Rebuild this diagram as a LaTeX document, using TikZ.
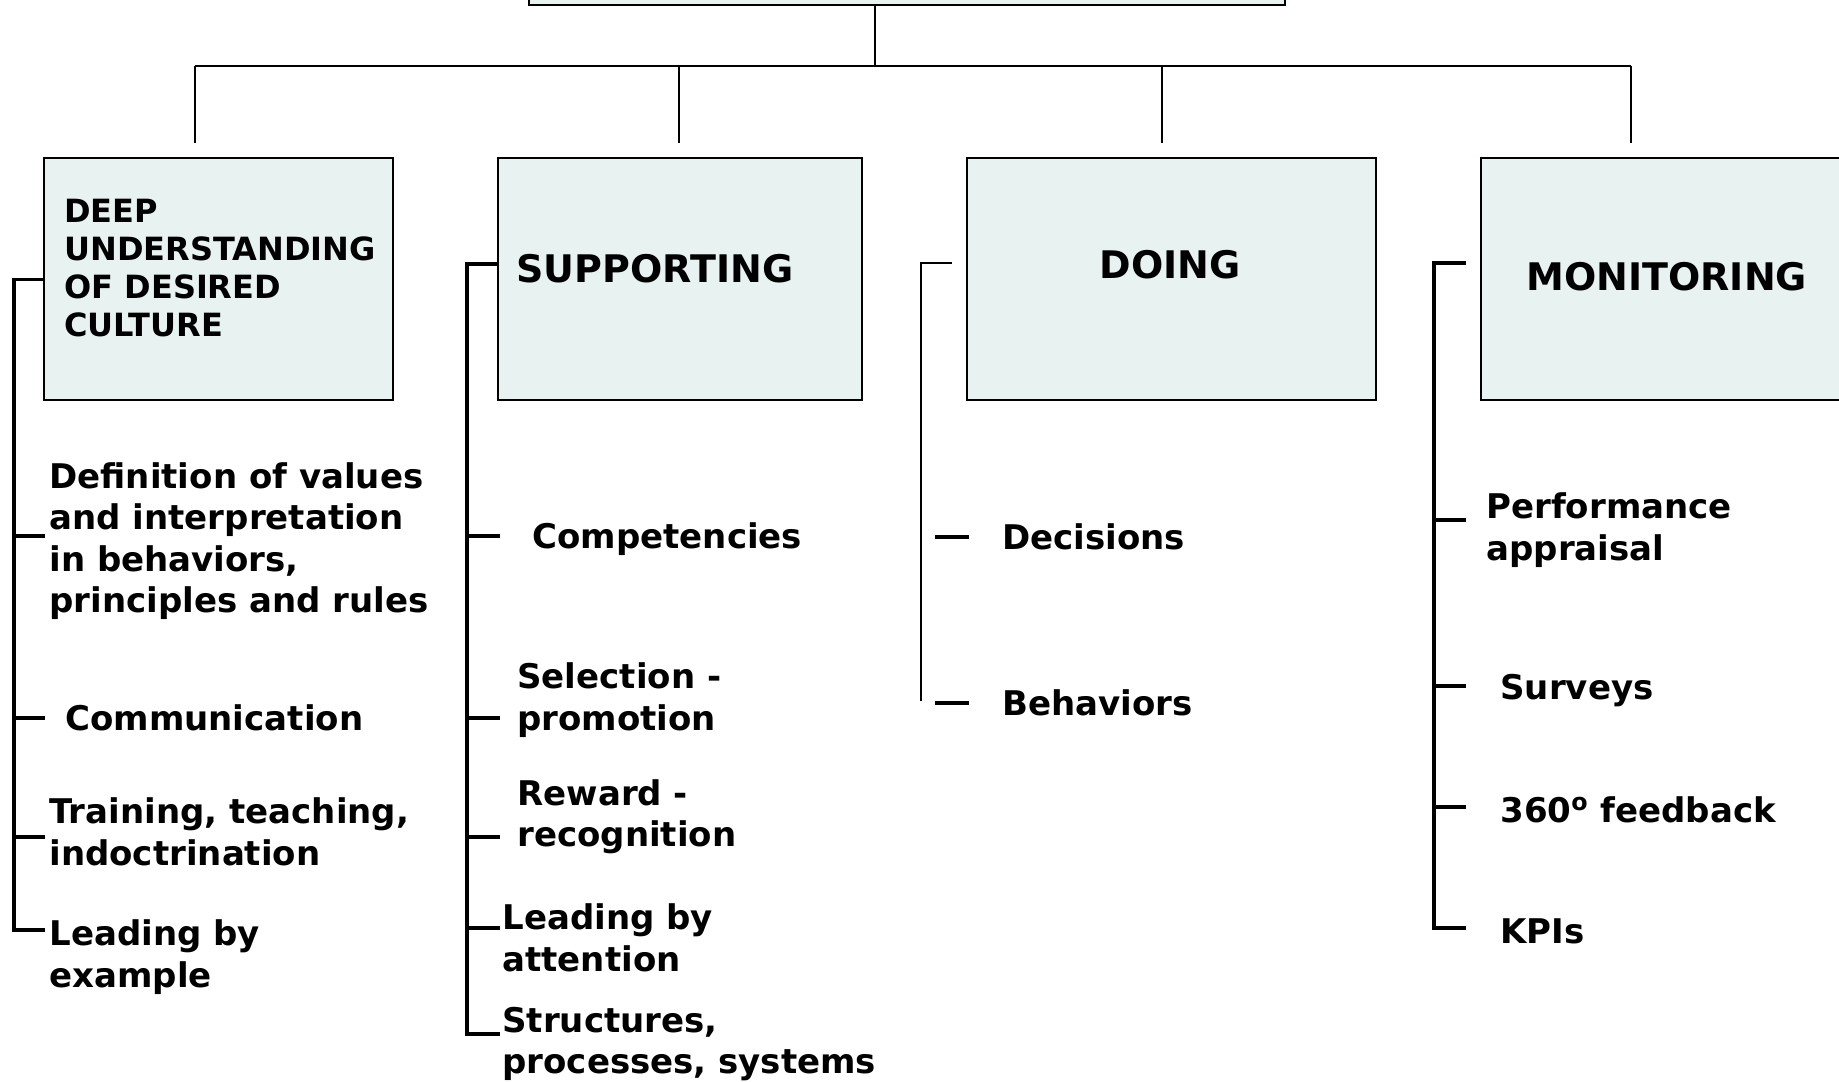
\documentclass[tikz,border=0pt]{standalone}
\usepackage{fontspec}
\setmainfont{DejaVu Sans}
\usetikzlibrary{positioning}
\definecolor{boxfill}{RGB}{232,242,240}
\begin{document}
\begin{tikzpicture}[x=0.5pt,y=-0.5pt]
	\def \busy{66}
	\def \dropend{143}
	\def \boxtop{157}
	\tikzstyle{c-box}=[rectangle,draw=black,line width=1.2pt,fill=boxfill,anchor=north west,minimum height=121pt,inner sep=0pt]
	\tikzstyle{title}=[font=\fontsize{19}{23}\selectfont\bfseries,inner sep=0pt]
	\tikzstyle{item}=[font=\fontsize{17}{20.7}\selectfont\bfseries,align=left,anchor=west,inner sep=0pt]
	\tikzstyle{spine}=[line width=1.6pt]
	\tikzstyle{link}=[line width=1pt]
	\useasboundingbox (0,0) rectangle (1839,1081);

	% boxes
	\node[c-box,minimum width=378pt,minimum height=40pt,anchor=south west] (top) at (528,6) {};
	\node[c-box,minimum width=174.5pt] (deep)  at (43,\boxtop)   {};
	\node[c-box,minimum width=182pt]   (supp)  at (497,\boxtop)  {};
	\node[c-box,minimum width=204.5pt] (doing) at (966,\boxtop)  {};
	\node[c-box,minimum width=190pt]   (mon)   at (1480,\boxtop) {};

	% titles
	\node[title,font=\fontsize{16}{19}\selectfont\bfseries,align=left,anchor=west] (deep-t) at (64,268) {DEEP\\UNDERSTANDING\\OF DESIRED\\CULTURE};
	\node[title,anchor=west] (supp-t)  at (516,269)  {SUPPORTING};
	\node[title]             (doing-t) at (1170,265) {DOING};
	\node[title,anchor=west] (mon-t)   at (1526,277) {MONITORING};

	% bus from the top box
	\coordinate (bus) at (875,\busy);
	\foreach \x [count=\i] in {195,679,1162,1631}
		\coordinate (drop\i) at (\x,\dropend);
	\draw[link] (top.south -| bus) -- (bus);
	\draw[link] (drop1 |- bus) -- (drop4 |- bus);
	\foreach \i in {1,...,4}
		\draw[link] (drop\i |- bus) -- (drop\i);

	% deep understanding
	\node[item] (def)    at (49,541) {Definition of values\\and interpretation\\in behaviors,\\principles and rules};
	\node[item] (comm)   at (65,718) {Communication};
	\node[item] (train)  at (49,832) {Training, teaching,\\indoctrination};
	\node[item] (lead-a) at (49,957) {Leading by\\example};

	% supporting
	\node[item] (comp)   at (532,539)  {Competencies};
	\node[item] (sel)    at (517,700)  {Selection -\\promotion};
	\node[item] (rew)    at (517,817)  {Reward -\\recognition};
	\node[item] (lead-b) at (502,938)  {Leading by\\attention};
	\node[item] (struc)  at (502,1044) {Structures,\\processes, systems};

	% doing
	\node[item] (dec) at (1002,537) {Decisions};
	\node[item] (beh) at (1002,703) {Behaviors};

	% monitoring
	\node[item] (perf) at (1486,530) {Performance\\appraisal};
	\node[item] (surv) at (1500,691) {Surveys};
	\node[item] (deg)  at (1500,810) {360\textsuperscript{o} feedback};
	\node[item] (kpi)  at (1500,931) {KPIs};

	% brackets
	\coordinate (s1) at (14,930);
	\coordinate (s2) at (467,264);
	\coordinate (s3) at (921,263);
	\coordinate (s4) at (1434,263);
	\draw[spine] (deep.west) -| (s1) -- ++(31,0);
	\foreach \y [count=\i] in {536,718,837} {
		\coordinate (k1-\i) at (45,\y);
		\draw[spine] (s1 |- k1-\i) -- (k1-\i);
	}
	\draw[spine] (s2 -| supp.west) -- (s2) -- ++(0,770) -- ++(33,0);
	\foreach \y [count=\i] in {536,718,837,928} {
		\coordinate (k2-\i) at (500,\y);
		\draw[spine] (s2 |- k2-\i) -- (k2-\i);
	}
	\draw[link,line width=1.2pt] ([xshift=15.5pt]s3) -- (s3) -- ++(0,438);
	\draw[spine] ([xshift=-33.5pt]dec.west) -- ([xshift=-16.5pt]dec.west);
	\draw[spine] ([xshift=-33.5pt]beh.west) -- ([xshift=-16.5pt]beh.west);
	\draw[spine] ([xshift=16pt]s4) -- (s4) -- ++(0,665) -- ++(32,0);
	\foreach \y [count=\i] in {520,686,807} {
		\coordinate (k4-\i) at (1466,\y);
		\draw[spine] (s4 |- k4-\i) -- (k4-\i);
	}
\end{tikzpicture}
\end{document}
